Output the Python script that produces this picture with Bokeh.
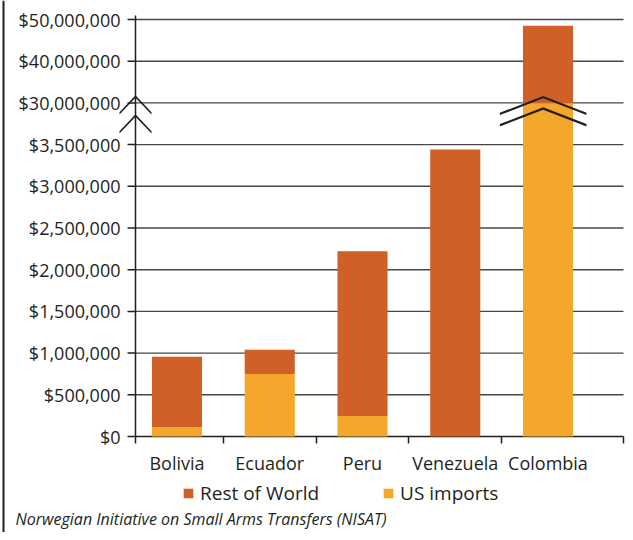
from bokeh.plotting import figure
from bokeh.models import (ColumnDataSource, FixedTicker, Range1d, Legend, LegendItem, Label)
from bokeh.embed import file_html
from bokeh.resources import INLINE

# ---------------- data ----------------
countries = ["Bolivia", "Ecuador", "Peru", "Venezuela", "Colombia"]
us_imports = [110000, 750000, 245000, 0, 29800000]
rest_of_world = [845000, 290000, 1975000, 3440000, 18700000]
tick_values = [0, 500000, 1000000, 1500000, 2000000, 2500000, 3000000, 3500000,
               30000000, 40000000, 50000000]
break_low = 3500000
break_high = 30000000
series_names = ["Rest of World", "US imports"]
caption = "Norwegian Initiative on Small Arms Transfers (NISAT)"

C_ROW = "#cf6028"
C_US = "#f5a72c"
C_TXT = "#231f20"
C_GRID = "#474747"
FONT = "Open Sans"


def to_pos(v):
    """broken-axis transform: 0..3.5M linear, break, 30M..50M linear"""
    if v <= break_low:
        return v / 500000.0
    if v <= break_high:
        return 7 + (v - break_low) / (break_high - break_low)
    return 8 + (v - break_high) / 10000000.0


xs = list(range(len(countries)))
us_top = [to_pos(u) for u in us_imports]
row_top = [to_pos(u + r) for u, r in zip(us_imports, rest_of_world)]
src = ColumnDataSource(dict(x=xs, us_top=us_top, row_bottom=us_top, row_top=row_top))

# ---------------- pixel geometry (frame covers the whole canvas) ----------------
W, H = 625, 532
X0PX, UX = 176.5, 92.75      # px of first category centre, px per category
Y0PX, UY = 436.0, 41.7       # px of the $0 baseline, px per tick step


def dx(px):
    return (px - X0PX) / UX


def dy(py):
    return (Y0PX - py) / UY


axis_x = dx(135)
tick_x = dx(127)
x_end = dx(623)
y_axis_top = dy(15)

p = figure(width=W, height=H, output_backend="svg", toolbar_location=None,
           x_range=Range1d(dx(0), dx(W)), y_range=Range1d(dy(H), dy(0)),
           min_border=0)
p.outline_line_color = None
p.background_fill_color = "white"
p.border_fill_color = "white"
p.xgrid.visible = False
p.ygrid.visible = False

# grid lines, ticks and axis lines drawn as segments
ypos = [to_pos(v) for v in tick_values]
n = len(ypos)
p.segment(x0=[axis_x] * (n - 1), x1=[x_end] * (n - 1), y0=ypos[1:], y1=ypos[1:],
          line_color=C_GRID, line_width=1.4)
p.segment(x0=[tick_x] * n, x1=[axis_x] * n, y0=ypos, y1=ypos,
          line_color=C_TXT, line_width=1.5)
p.segment(x0=[axis_x], x1=[x_end], y0=[0], y1=[0], line_color=C_TXT, line_width=1.6)
p.segment(x0=[axis_x], x1=[axis_x], y0=[0], y1=[y_axis_top], line_color=C_TXT, line_width=1.5)
# left border rule
p.segment(x0=[dx(3)], x1=[dx(3)], y0=[dy(H)], y1=[dy(0)], line_color=C_TXT, line_width=2)

r_us = p.vbar(x="x", bottom=0, top="us_top", width=0.54, source=src,
              fill_color=C_US, line_color=None)
r_row = p.vbar(x="x", bottom="row_bottom", top="row_top", width=0.54, source=src,
               fill_color=C_ROW, line_color=None)

# y axis, fixed at the broken axis line
ya = p.yaxis[0]
ya.fixed_location = axis_x
ya.ticker = FixedTicker(ticks=ypos, minor_ticks=[])
ya.major_label_overrides = {pv: "${:,}".format(v) for pv, v in zip(ypos, tick_values)}
ya.major_label_text_font = FONT
ya.major_label_text_font_size = "18px"
ya.major_label_text_color = C_TXT
ya.major_tick_out = 8
ya.major_tick_in = 0
ya.major_tick_line_color = None
ya.major_label_standoff = 7
ya.axis_line_color = None

# x axis, fixed at the $0 baseline
xa = p.xaxis[0]
xa.fixed_location = 0
xa.ticker = FixedTicker(ticks=xs, minor_ticks=[axis_x, 0.5, 1.5, 2.5, 3.5, x_end])
xa.major_label_overrides = {i: c for i, c in enumerate(countries)}
xa.major_label_text_font = FONT
xa.major_label_text_font_size = "18px"
xa.major_label_text_color = C_TXT
xa.major_tick_line_color = None
xa.major_tick_out = 7
xa.minor_tick_out = 7
xa.minor_tick_in = 0
xa.minor_tick_line_color = C_TXT
xa.minor_tick_line_width = 1.5
xa.major_label_standoff = 7
xa.axis_line_color = None


# break marks (chevrons) drawn as thin filled bands
def chevron(xc, half_w_px, apex_y, height, thick_px=2.3):
    hw = half_w_px / UX
    t = thick_px / UY
    return ([xc - hw, xc, xc + hw, xc + hw, xc, xc - hw],
            [apex_y - height, apex_y + t / 2, apex_y - height,
             apex_y - height - t, apex_y - t / 2, apex_y - height - t])


bp = to_pos(break_high)
chev = [chevron(axis_x, 16, bp + 0.153, 0.376),
        chevron(axis_x, 16, bp - 0.302, 0.376),
        chevron(3.948, 43.3, bp + 0.137, 0.374),
        chevron(3.948, 43.3, bp - 0.134, 0.374)]
p.patches(xs=[c[0] for c in chev], ys=[c[1] for c in chev],
          fill_color=C_TXT, line_color=None)

# legend
legend = Legend(items=[LegendItem(label=series_names[0], renderers=[r_row]),
                       LegendItem(label=series_names[1], renderers=[r_us])],
                orientation="horizontal", location=(182, H - 506),
                glyph_width=12, glyph_height=12, label_standoff=6, spacing=63,
                padding=0, margin=0, border_line_color=None,
                background_fill_alpha=0,
                label_text_font=FONT, label_text_font_size="19px",
                label_text_color=C_TXT)
p.add_layout(legend, "center")

# caption
p.add_layout(Label(x=dx(15), y=dy(518), text=caption, text_font=FONT,
                   text_font_style="italic", text_font_size="16px",
                   text_color=C_TXT, text_baseline="middle", text_align="left"))

open("out.html", "w").write(file_html(p, INLINE))
